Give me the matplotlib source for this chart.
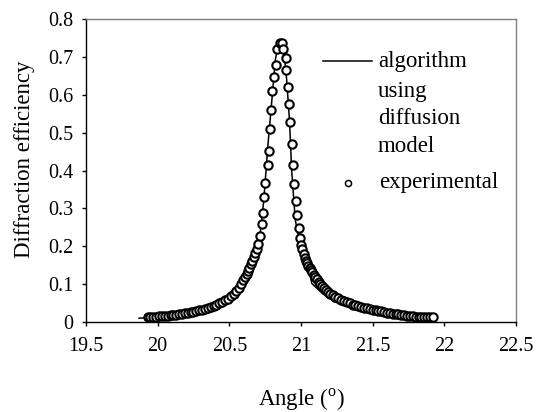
import matplotlib
matplotlib.use("Agg")
import matplotlib.pyplot as plt

# experimental points (angle in degrees, diffraction efficiency)
exp_angle = [19.93, 19.95, 19.97, 19.99, 20.01, 20.03, 20.05, 20.07, 20.09, 20.11,
             20.13, 20.15, 20.17, 20.19, 20.21, 20.23, 20.25, 20.27, 20.29, 20.31,
             20.33, 20.35, 20.37, 20.39, 20.41, 20.43, 20.45, 20.47, 20.49, 20.51,
             20.53, 20.55, 20.565, 20.58, 20.595, 20.61, 20.62, 20.63, 20.64, 20.65,
             20.66, 20.67, 20.68, 20.69, 20.70, 20.714, 20.728, 20.737, 20.739, 20.747,
             20.768, 20.777, 20.784, 20.788, 20.800, 20.812, 20.824, 20.831, 20.854,
             20.866, 20.877, 20.892, 20.896, 20.908, 20.915, 20.926, 20.938, 20.942,
             20.954, 20.965, 20.975, 20.986, 20.990, 21.000,
             21.010, 21.020, 21.028, 21.036, 21.044, 21.052, 21.060, 21.070, 21.080, 21.090,
             21.100, 21.112, 21.124, 21.136, 21.148, 21.160, 21.175, 21.19, 21.205, 21.22,
             21.24, 21.26, 21.28, 21.30, 21.32, 21.34, 21.36, 21.38, 21.40, 21.42,
             21.44, 21.46, 21.48, 21.50, 21.52, 21.54, 21.56, 21.58, 21.60, 21.62,
             21.64, 21.66, 21.68, 21.70, 21.72, 21.74, 21.76, 21.78, 21.80, 21.82,
             21.84, 21.86, 21.88, 21.90, 21.92]
exp_eff = [0.012, 0.013, 0.013, 0.014, 0.015, 0.016, 0.016, 0.017, 0.018, 0.018,
           0.019, 0.020, 0.021, 0.023, 0.024, 0.026, 0.027, 0.029, 0.031, 0.033,
           0.035, 0.037, 0.040, 0.043, 0.046, 0.049, 0.053, 0.057, 0.062, 0.068,
           0.075, 0.083, 0.091, 0.100, 0.110, 0.119, 0.127, 0.135, 0.143, 0.152,
           0.162, 0.172, 0.182, 0.193, 0.205, 0.226, 0.259, 0.287, 0.329, 0.368,
           0.414, 0.451, 0.509, 0.560, 0.611, 0.646, 0.678, 0.722, 0.736,
           0.736, 0.720, 0.696, 0.665, 0.621, 0.575, 0.528, 0.470, 0.415,
           0.364, 0.320, 0.282, 0.248, 0.223, 0.203,
           0.192, 0.180, 0.170, 0.162, 0.155, 0.149, 0.143, 0.137, 0.131, 0.125,
           0.119, 0.113, 0.106, 0.100, 0.094, 0.089, 0.084, 0.079, 0.075, 0.071,
           0.067, 0.063, 0.059, 0.056, 0.052, 0.049, 0.046, 0.044, 0.042, 0.040,
           0.038, 0.036, 0.034, 0.032, 0.031, 0.029, 0.028, 0.026, 0.025, 0.023,
           0.022, 0.021, 0.020, 0.019, 0.018, 0.016, 0.015, 0.015, 0.014, 0.013,
           0.013, 0.012, 0.012, 0.012, 0.012]

# model curve (algorithm using diffusion model)
model_angle = [19.87, 19.95, 20.10, 20.25, 20.40, 20.50, 20.58, 20.64, 20.68, 20.71,
               20.74, 20.77, 20.80, 20.82, 20.845, 20.86, 20.88, 20.90, 20.92, 20.935,
               20.96, 20.99, 21.02, 21.05, 21.075, 21.15, 21.23, 21.30, 21.40, 21.55,
               21.70, 21.85]
model_eff = [0.010, 0.012, 0.018, 0.027, 0.042, 0.060, 0.090, 0.125, 0.165, 0.215,
             0.320, 0.470, 0.600, 0.690, 0.740, 0.735, 0.715, 0.640, 0.530, 0.400,
             0.270, 0.210, 0.175, 0.150, 0.102, 0.075, 0.054, 0.045, 0.036, 0.026,
             0.018, 0.013]

x_ticks = [19.5, 20, 20.5, 21, 21.5, 22, 22.5]
x_labels = ['19.5', '20', '20.5', '21', '21.5', '22', '22.5']
y_ticks = [0, 0.1, 0.2, 0.3, 0.4, 0.5, 0.6, 0.7, 0.8]
y_labels = ['0', '0.1', '0.2', '0.3', '0.4', '0.5', '0.6', '0.7', '0.8']

plt.rcParams['font.family'] = ['Liberation Serif', 'DejaVu Serif']
plt.rcParams['mathtext.fontset'] = 'custom'
plt.rcParams['mathtext.rm'] = 'Liberation Serif'
fs_tick = 14.5
fs_lab = 16.5

fig = plt.figure(figsize=(5.36, 4.12), dpi=100)
ax = fig.add_axes([86/536, 90/412, 430/536, 303/412])

ax.plot(model_angle, model_eff, color='black', lw=1.1, zorder=2)
ax.plot(exp_angle, exp_eff, 'o', ms=6.0, mfc='white', mec='black', mew=1.5, zorder=3)

ax.set_xlim(19.5, 22.5)
ax.set_ylim(0, 0.8)
ax.set_xticks(x_ticks)
ax.set_xticklabels(x_labels)
ax.set_yticks(y_ticks)
ax.set_yticklabels(y_labels)
ax.tick_params(direction='out', length=3, width=1, labelsize=fs_tick, color='black')
ax.tick_params(axis='x', pad=8)
ax.tick_params(axis='y', pad=6)

for s in ['top', 'right']:
    ax.spines[s].set_color('#808080')
for s in ['left', 'bottom']:
    ax.spines[s].set_color('black')
for s in ax.spines.values():
    s.set_linewidth(1.0)

ax.set_xlabel('Angle ($^{\\mathrm{o}}$)', fontsize=fs_lab, labelpad=22)
ax.set_ylabel('Diffraction efficiency', fontsize=fs_lab)
ax.yaxis.set_label_coords(-0.118, 0.538)

# legend drawn by hand to keep the Excel-like layout
ax.plot([0.551, 0.665], [0.862, 0.862], color='black', lw=1.1, transform=ax.transAxes, clip_on=False)
for txt, yb in zip(['algorithm', 'using', 'diffusion', 'model'], [0.8426, 0.7436, 0.6535, 0.5601]):
    ax.text(0.679, yb, txt, fontsize=fs_lab, va='baseline', ha='left', transform=ax.transAxes)
ax.plot([0.609], [0.4597], 'o', ms=4.4, mfc='white', mec='black', mew=1.1, transform=ax.transAxes)
ax.text(0.681, 0.4422, 'experimental', fontsize=fs_lab, va='baseline', ha='left', transform=ax.transAxes)

fig.savefig('out.png', dpi=100)
